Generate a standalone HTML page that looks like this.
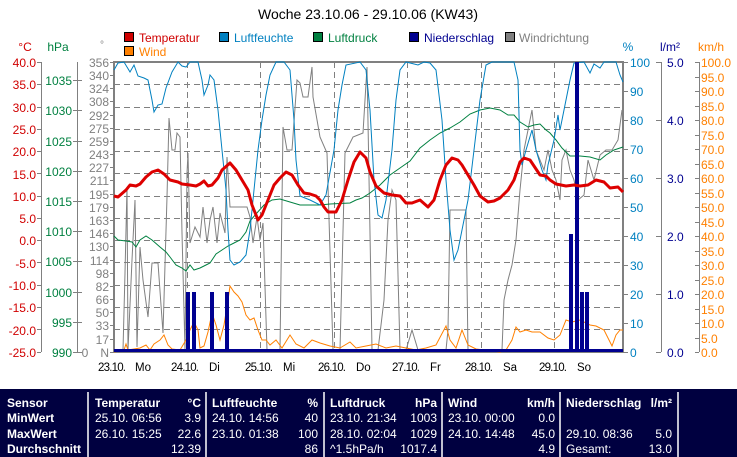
<!DOCTYPE html>
<html><head><meta charset="utf-8"><style>
body{margin:0;background:#fff;width:737px;height:457px;overflow:hidden;font-family:"Liberation Sans",sans-serif}
svg{position:absolute;left:0;top:0}
</style></head><body>
<svg width="737" height="457" viewBox="0 0 737 457" font-family="Liberation Sans, sans-serif" font-size="12">
<text x="368" y="19" text-anchor="middle" font-size="14" fill="#000">Woche 23.10.06 - 29.10.06 (KW43)</text>
<g font-size="12">
<rect x="124.5" y="32.5" width="9" height="9" fill="#d00000" stroke="#000"/><text x="139" y="42" fill="#d00000">Temperatur</text>
<rect x="124.5" y="46.5" width="9" height="9" fill="#ff8000" stroke="#000"/><text x="139" y="56" fill="#ff8000">Wind</text>
<rect x="219.5" y="32.5" width="9" height="9" fill="#0080c0" stroke="#000"/><text x="234" y="42" fill="#0080c0">Luftfeuchte</text>
<rect x="313.5" y="32.5" width="9" height="9" fill="#008040" stroke="#000"/><text x="328" y="42" fill="#008040">Luftdruck</text>
<rect x="409.5" y="32.5" width="9" height="9" fill="#000090" stroke="#000"/><text x="424" y="42" fill="#000090">Niederschlag</text>
<rect x="505.5" y="32.5" width="9" height="9" fill="#808080" stroke="#000"/><text x="519" y="42" fill="#808080">Windrichtung</text>
</g>
<text x="25" y="51" text-anchor="middle" fill="#d00000">°C</text>
<text x="58" y="51" text-anchor="middle" fill="#008040">hPa</text>
<text x="102" y="48" text-anchor="middle" fill="#808080" font-size="10">°</text>
<text x="628" y="51" text-anchor="middle" fill="#0080c0">%</text>
<text x="670" y="51" text-anchor="middle" fill="#000090">l/m²</text>
<text x="711" y="51" text-anchor="middle" fill="#ff8000">km/h</text>

<g stroke="#808080" fill="none">
<line x1="41.5" y1="62" x2="41.5" y2="352"/>
<line x1="77.5" y1="62" x2="77.5" y2="352"/>
<line x1="661.5" y1="62" x2="661.5" y2="352"/>
<line x1="699.5" y1="62" x2="699.5" y2="352"/>
</g>
<g fill="#d00000" text-anchor="end">
<text x="36" y="67">40.0</text><text x="36" y="89">35.0</text><text x="36" y="112">30.0</text><text x="36" y="134">25.0</text><text x="36" y="156">20.0</text><text x="36" y="179">15.0</text><text x="36" y="201">10.0</text><text x="36" y="223">5.0</text><text x="36" y="245">0.0</text><text x="36" y="268">-5.0</text><text x="36" y="290">-10.0</text><text x="36" y="312">-15.0</text><text x="36" y="335">-20.0</text><text x="36" y="357">-25.0</text>
</g>
<g stroke="#808080"><path d="M37 62.5h4M37 84.5h4M37 107.5h4M37 129.5h4M37 151.5h4M37 173.5h4M37 196.5h4M37 218.5h4M37 240.5h4M37 262.5h4M37 285.5h4M37 307.5h4M37 329.5h4M37 352.5h4"/>
<path d="M73 80.5h9M73 110.5h9M73 141.5h9M73 171.5h9M73 201.5h9M73 231.5h9M73 261.5h9M73 292.5h9M73 322.5h9M73 352.5h9"/>
<path d="M656 62.5h5M656 120.5h5M656 178.5h5M656 236.5h5M656 294.5h5M656 352.5h5"/>
<path d="M623 62.5h5M623 91.5h5M623 120.5h5M623 149.5h5M623 178.5h5M623 207.5h5M623 236.5h5M623 265.5h5M623 294.5h5M623 323.5h5M623 352.5h5"/>
<path d="M695 62.5h4M695 77.5h4M695 91.5h4M695 106.5h4M695 120.5h4M695 135.5h4M695 149.5h4M695 164.5h4M695 178.5h4M695 193.5h4M695 207.5h4M695 222.5h4M695 236.5h4M695 251.5h4M695 265.5h4M695 280.5h4M695 294.5h4M695 309.5h4M695 323.5h4M695 338.5h4M695 352.5h4"/>
<path d="M110 62.5h4M110 75.5h4M110 88.5h4M110 101.5h4M110 115.5h4M110 128.5h4M110 141.5h4M110 154.5h4M110 167.5h4M110 180.5h4M110 194.5h4M110 207.5h4M110 220.5h4M110 233.5h4M110 246.5h4M110 260.5h4M110 273.5h4M110 286.5h4M110 299.5h4M110 312.5h4M110 325.5h4M110 339.5h4M110 352.5h4"/></g>
<g fill="#008040" text-anchor="end">
<text x="72" y="85">1035</text><text x="72" y="115">1030</text><text x="72" y="146">1025</text><text x="72" y="176">1020</text><text x="72" y="206">1015</text><text x="72" y="236">1010</text><text x="72" y="266">1005</text><text x="72" y="297">1000</text><text x="72" y="327">995</text><text x="72" y="357">990</text>
</g>
<text x="85" y="357" fill="#808080" text-anchor="middle">0</text>
<g fill="#808080" text-anchor="end">
<text x="109" y="67">356</text><text x="109" y="80">340</text><text x="109" y="93">324</text><text x="109" y="106">308</text><text x="109" y="120">292</text><text x="109" y="133">275</text><text x="109" y="146">259</text><text x="109" y="159">243</text><text x="109" y="172">227</text><text x="109" y="185">211</text><text x="109" y="199">195</text><text x="109" y="212">179</text><text x="109" y="225">163</text><text x="109" y="238">146</text><text x="109" y="251">130</text><text x="109" y="265">114</text><text x="109" y="278">98</text><text x="109" y="291">82</text><text x="109" y="304">66</text><text x="109" y="317">50</text><text x="109" y="330">33</text><text x="109" y="344">17</text><text x="109" y="357">N</text>
</g>
<g fill="#0080c0">
<text x="630" y="67">100</text><text x="630" y="96">90</text><text x="630" y="125">80</text><text x="630" y="154">70</text><text x="630" y="183">60</text><text x="630" y="212">50</text><text x="630" y="241">40</text><text x="630" y="270">30</text><text x="630" y="299">20</text><text x="630" y="328">10</text><text x="630" y="357">0</text>
</g>
<g fill="#000090">
<text x="667" y="67">5.0</text><text x="667" y="125">4.0</text><text x="667" y="183">3.0</text><text x="667" y="241">2.0</text><text x="667" y="299">1.0</text><text x="667" y="357">0.0</text>
</g>
<g fill="#ff8000">
<text x="701" y="67">100.0</text><text x="701" y="82">95.0</text><text x="701" y="96">90.0</text><text x="701" y="111">85.0</text><text x="701" y="125">80.0</text><text x="701" y="140">75.0</text><text x="701" y="154">70.0</text><text x="701" y="169">65.0</text><text x="701" y="183">60.0</text><text x="701" y="198">55.0</text><text x="701" y="212">50.0</text><text x="701" y="227">45.0</text><text x="701" y="241">40.0</text><text x="701" y="256">35.0</text><text x="701" y="270">30.0</text><text x="701" y="285">25.0</text><text x="701" y="299">20.0</text><text x="701" y="314">15.0</text><text x="701" y="328">10.0</text><text x="701" y="343">5.0</text><text x="701" y="357">0.0</text>
</g>
<g stroke="#808080" stroke-dasharray="6,4">
<path d="M114 84.5h509M114 107.5h509M114 129.5h509M114 151.5h509M114 173.5h509M114 196.5h509M114 218.5h509M114 240.5h509M114 262.5h509M114 285.5h509M114 307.5h509M114 329.5h509"/>
<path d="M187.5 62v290M260.5 62v290M334.5 62v290M407.5 62v290M481.5 62v290M554.5 62v290"/>
</g>
<rect x="114" y="62" width="509" height="290" fill="none" stroke="#808080" stroke-width="2"/>
<g fill="#000" font-size="11.5">
<text x="98" y="371" textLength="28">23.10.</text><text x="135" y="371">Mo</text>
<text x="171" y="371" textLength="28">24.10.</text><text x="209" y="371">Di</text>
<text x="245" y="371" textLength="28">25.10.</text><text x="283" y="371">Mi</text>
<text x="318" y="371" textLength="28">26.10.</text><text x="356" y="371">Do</text>
<text x="392" y="371" textLength="28">27.10.</text><text x="430" y="371">Fr</text>
<text x="465" y="371" textLength="28">28.10.</text><text x="503" y="371">Sa</text>
<text x="539" y="371" textLength="28">29.10.</text><text x="577" y="371">So</text>
</g>
<polyline fill="none" stroke="#808080" stroke-width="1" points="114,352 121,352 123,350 125,273 127,187 128,350 132,260 135,200 137,347 140,247 143,280 148,317 152,263 158,263 163,333 167,197 169,118 172,150 175,150 177,133 180,137 182,233 185,350 187,173 188,153 190,243 195,227 200,237 203,207 207,243 210,220 213,207 217,243 220,213 225,233 227,157 230,207 237,207 243,207 247,207 250,217 253,243 257,217 260,240 263,223 267,350 273,350 280,350 283,127 287,150 292,150 297,80 300,83 303,97 308,97 312,67 313,97 320,137 327,153 333,350 340,350 345,153 353,137 363,133 367,67 370,233 372,350 378,350 384,300 388,220 392,190 396,200 400,350 406,350 412,330 418,350 446,350 448,330 450,210 466,210 468,350 502,350 504,300 508,280 512,265 516,240 520,190 524,150 528,130 532,110 536,150 540,160 544,170 548,150 552,170 556,180 560,200 562,160 566,150 570,170 574,180 578,200 584,195 588,160 594,180 600,155 606,150 612,150 618,140 622,110"/>
<polyline fill="none" stroke="#008040" stroke-width="1" points="114,236 118,240 126,241 132,242 136,247 140,240 146,236 152,240 160,247 166,252 170,257 176,265 182,268 186,271 190,265 194,270 200,268 206,265 210,263 216,254 222,250 228,246 234,243 240,240 246,232 250,221 256,214 264,205 272,200 280,199 290,202 300,205 320,205 330,204 350,203 356,200 362,198 370,193 380,185 390,175 400,168 410,161 420,148 430,140 440,133 450,128 460,122 470,114 480,110 490,108 500,110 508,115 514,115 520,122 528,127 534,125 540,124 546,130 550,133 556,140 562,148 570,156 580,156 590,157 600,160 606,155 614,150 623,147"/>
<polyline fill="none" stroke="#0080c0" stroke-width="1" points="114,70 118,63 124,62 130,72 134,65 138,76 144,78 148,80 152,100 154,112 158,105 162,104 166,88 172,72 178,62 182,66 186,67 190,62 198,62 202,80 204,95 208,85 210,75 214,80 218,110 222,150 226,190 228,230 230,260 234,265 240,262 246,255 250,230 254,190 258,150 262,120 266,95 270,75 276,62 284,62 290,70 294,120 296,160 300,196 310,200 320,205 326,195 334,150 338,110 342,85 346,65 360,62 366,70 370,110 374,180 378,215 382,218 386,200 392,150 396,100 400,70 406,62 418,65 424,62 430,63 436,70 442,120 446,180 450,230 454,260 458,250 462,230 468,200 474,150 480,100 486,65 492,62 514,62 518,80 520,150 522,165 526,150 532,130 536,150 542,170 546,180 548,165 554,140 558,115 560,130 564,110 570,80 574,63 584,62 590,73 594,64 600,68 604,62 616,62 620,75 623,82"/>
<polyline fill="none" stroke="#ff8000" stroke-width="1" points="114,352 124,350 126,344 128,350 140,348 146,345 150,350 154,344 160,340 164,335 168,345 172,349 180,350 186,340 190,330 194,322 198,330 200,348 204,346 208,332 212,313 216,325 220,340 224,325 228,300 230,286 234,292 238,296 242,302 246,315 250,320 254,318 258,330 262,340 266,340 270,345 276,340 282,348 290,335 296,344 304,348 312,340 320,343 330,346 340,348 350,342 356,348 366,346 376,344 386,348 396,346 406,348 416,350 426,348 436,345 446,326 450,340 456,348 462,330 468,345 476,349 484,350 500,352 506,350 512,340 516,327 520,332 526,330 532,332 540,332 548,338 554,340 560,335 566,320 572,322 580,320 590,325 596,326 604,330 610,342 612,346 616,335 620,330 623,330"/>
<g fill="#000090">
<rect x="186" y="292" width="4" height="60"/><rect x="192" y="292" width="4" height="60"/><rect x="210" y="292" width="4" height="60"/><rect x="225" y="292" width="4" height="60"/>
<rect x="569" y="234" width="4" height="118"/><rect x="575" y="62" width="4" height="290"/><rect x="580" y="292" width="4" height="60"/><rect x="585" y="292" width="4" height="60"/>
<rect x="114" y="349" width="509" height="3"/>
</g>
<polyline fill="none" stroke="#dd0000" stroke-width="3" stroke-linejoin="round" points="114,196 118,197 126,190 130,185 136,186 140,184 146,177 152,172 158,170 164,174 170,180 178,182 182,184 190,185 196,186 200,184 204,181 208,186 212,185 218,178 222,170 230,163 236,170 242,180 248,190 252,205 256,215 258,220 262,215 268,200 274,185 280,178 286,172 292,175 298,185 304,193 310,194 316,196 320,200 324,207 328,212 336,212 342,200 348,180 354,162 360,152 366,158 370,172 376,186 384,193 392,195 400,196 406,203 412,203 420,200 428,207 434,200 440,180 446,165 452,158 458,160 462,165 468,175 474,185 480,196 488,202 494,201 500,198 508,190 514,180 520,162 524,158 530,160 534,166 540,175 546,176 550,180 556,184 566,186 574,185 580,186 588,185 596,180 604,182 610,188 618,187 623,192"/>
<rect x="0" y="389" width="737" height="68" fill="#000040"/>
<g stroke="#fff" stroke-width="1.5"><path d="M88 392v65M206 392v65M324 392v65M442 392v65M560 392v65M678 392v65"/></g>
<g fill="#fff" font-size="12" font-weight="bold">
<text x="7" y="407">Sensor</text><text x="7" y="422">MinWert</text><text x="7" y="438">MaxWert</text><text x="7" y="453">Durchschnitt</text>
<text x="95" y="407">Temperatur</text><text x="201" y="407" text-anchor="end">°C</text>
<text x="212" y="407">Luftfeuchte</text><text x="318" y="407" text-anchor="end">%</text>
<text x="330" y="407">Luftdruck</text><text x="437" y="407" text-anchor="end">hPa</text>
<text x="448" y="407">Wind</text><text x="555" y="407" text-anchor="end">km/h</text>
<text x="566" y="407">Niederschlag</text><text x="672" y="407" text-anchor="end">l/m²</text>
</g>
<g fill="#fff" font-size="12">
<text x="95" y="422">25.10. 06:56</text><text x="201" y="422" text-anchor="end">3.9</text>
<text x="95" y="438">26.10. 15:25</text><text x="201" y="438" text-anchor="end">22.6</text>
<text x="201" y="453" text-anchor="end">12.39</text>
<text x="212" y="422">24.10. 14:56</text><text x="318" y="422" text-anchor="end">40</text>
<text x="212" y="438">23.10. 01:38</text><text x="318" y="438" text-anchor="end">100</text>
<text x="318" y="453" text-anchor="end">86</text>
<text x="330" y="422">23.10. 21:34</text><text x="437" y="422" text-anchor="end">1003</text>
<text x="330" y="438">28.10. 02:04</text><text x="437" y="438" text-anchor="end">1029</text>
<text x="330" y="453">^1.5hPa/h</text><text x="437" y="453" text-anchor="end">1017.4</text>
<text x="448" y="422">23.10. 00:00</text><text x="555" y="422" text-anchor="end">0.0</text>
<text x="448" y="438">24.10. 14:48</text><text x="555" y="438" text-anchor="end">45.0</text>
<text x="555" y="453" text-anchor="end">4.9</text>
<text x="566" y="438">29.10. 08:36</text><text x="672" y="438" text-anchor="end">5.0</text>
<text x="566" y="453">Gesamt:</text><text x="672" y="453" text-anchor="end">13.0</text>
</g>
</svg>
</body></html>
